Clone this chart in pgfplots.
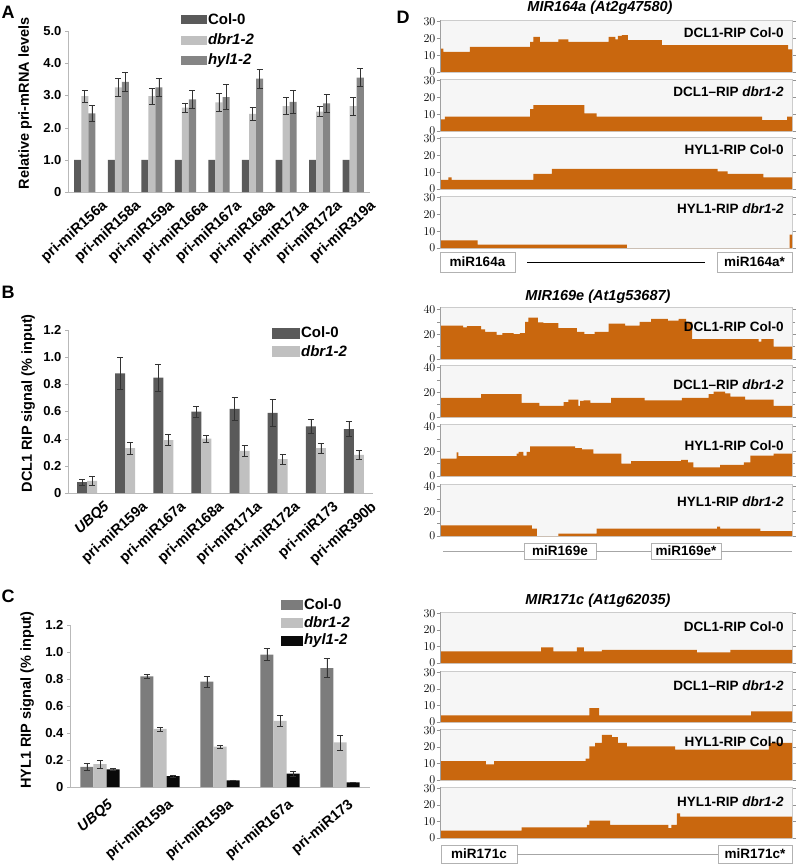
\documentclass[border=0pt]{standalone}
\usepackage{fontspec}
\setmainfont{Liberation Sans}
\usepackage{pgfplots}
\pgfplotsset{compat=1.18}
\newcommand\fs[1]{\fontsize{#1}{#1}\selectfont}
\definecolor{cdark}{HTML}{5A5A5A}
\definecolor{clight}{HTML}{C0C0C0}
\definecolor{cmid}{HTML}{858585}
\definecolor{cmidC}{HTML}{7C7C7C}
\definecolor{cblack}{HTML}{0A0A0A}
\definecolor{trk}{RGB}{201,103,14}
\definecolor{trkbg}{HTML}{F6F6F6}
\pgfplotsset{
  barax/.style={scale only axis, anchor=south west, clip=false,
    axis lines*=left, axis line style={draw=gray!55},
    xtick style={draw=none}, ytick style={draw=gray!60},
    tick align=outside, major tick length=3pt,
    tick label style={font=\bfseries\fs{13}},
    ylabel style={anchor=center, font=\bfseries\fs{14.5}},
    legend style={anchor=north west, draw=none, fill=none, font=\bfseries\fs{15}, inner sep=0pt, nodes={inner sep=1.5pt}},
    legend cell align=left},
  eb/.style={error bars/.cd, y dir=both, y explicit,
    error bar style={black!80, line width=0.6pt},
    error mark options={black!80, rotate=90, mark size=3pt, line width=0.6pt}},
  trk/.style={scale only axis, anchor=south west, width=352pt, xmin=0, xmax=100, ymin=0,
    axis background/.style={fill=trkbg}, axis line style={draw=gray!40},
    xtick=\empty, ytick style={draw=gray!85, line width=0.7pt},
    tick align=outside, major tick length=3.5pt, minor tick length=3pt,
    yticklabel style={font=\bfseries\fs{13}, inner sep=1pt},
    after end axis/.code={\draw[gray!75, line width=0.7pt] (rel axis cs:0,0) -- (rel axis cs:0,1);}},
  tf/.style={const plot, fill=trk, draw=none},
}
\newcommand\tlab[2]{\node[anchor=east, font=\bfseries\fs{13.5}] at (rel axis cs:0.986,#1) {#2};}
\begin{document}
\begin{tikzpicture}
\path[use as bounding box] (0pt,0pt) rectangle (795pt,-864pt);
% panel letters
\node[font=\bfseries\fs{18}] at (8pt,-12pt) {A};
\node[font=\bfseries\fs{18}] at (8pt,-292pt) {B};
\node[font=\bfseries\fs{18}] at (8pt,-596pt) {C};
\node[font=\bfseries\fs{18}] at (403pt,-17pt) {D};

% ---------------- Panel A
\begin{axis}[barax, at={(68pt,-192pt)}, width=302pt, height=161pt,
  xmin=-0.5, xmax=8.5, ymin=0, ymax=5,
  xtick={0,...,8},
  xticklabels={pri-miR156a,pri-miR158a,pri-miR159a,pri-miR166a,pri-miR167a,pri-miR168a,pri-miR171a,pri-miR172a,pri-miR319a},
  x tick label style={xshift=16pt, yshift=-4pt, rotate=42, anchor=north east, inner sep=0pt, font=\bfseries\fs{14.5}},
  ytick={0,1,2,3,4,5}, yticklabels={0,1.0,2.0,3.0,4.0,5.0},
  ylabel={Relative pri-mRNA levels}, ylabel style={at={(rel axis cs:-0.142,0.55)}},
  legend style={at={(rel axis cs:0.374,1.12)}, row sep=5pt}]
\addlegendimage{legend image code/.code={\fill[cdark] (0pt,-4pt) rectangle (25pt,4pt);}}
\addlegendentry{Col-0}
\addlegendimage{legend image code/.code={\fill[clight] (0pt,-4pt) rectangle (25pt,4pt);}}
\addlegendentry{\textit{dbr1-2}}
\addlegendimage{legend image code/.code={\fill[cmid] (0pt,-4pt) rectangle (25pt,4pt);}}
\addlegendentry{\textit{hyl1-2}}
\addplot[ybar, bar width=0.21, bar shift=0pt, x filter/.expression={x-0.21}, fill=cdark, draw=none, forget plot]
  coordinates {(0,1)(1,1)(2,1)(3,1)(4,1)(5,1)(6,1)(7,1)(8,1)};
\addplot[ybar, bar width=0.21, bar shift=0pt, fill=clight, draw=none, forget plot, eb]
  coordinates {(0,2.98)+-(0,0.18) (1,3.25)+-(0,0.27) (2,2.98)+-(0,0.25) (3,2.62)+-(0,0.15) (4,2.78)+-(0,0.28)
   (5,2.43)+-(0,0.2) (6,2.67)+-(0,0.27) (7,2.5)+-(0,0.15) (8,2.67)+-(0,0.28)};
\addplot[ybar, bar width=0.21, bar shift=0pt, x filter/.expression={x+0.21}, fill=cmid, draw=none, forget plot, eb]
  coordinates {(0,2.44)+-(0,0.24) (1,3.42)+-(0,0.3) (2,3.25)+-(0,0.28) (3,2.88)+-(0,0.28) (4,2.95)+-(0,0.38)
   (5,3.52)+-(0,0.3) (6,2.8)+-(0,0.35) (7,2.75)+-(0,0.28) (8,3.55)+-(0,0.28)};
\end{axis}

% ---------------- Panel B
\begin{axis}[barax, at={(68pt,-493pt)}, width=305pt, height=163pt,
  xmin=-0.5, xmax=7.5, ymin=0, ymax=1.2,
  xtick={0,...,7},
  xticklabels={\textit{UBQ5},pri-miR159a,pri-miR167a,pri-miR168a,pri-miR171a,pri-miR172a,pri-miR173,pri-miR390b},
  x tick label style={xshift=16pt, yshift=-4pt, rotate=42, anchor=north east, inner sep=0pt, font=\bfseries\fs{14.5}},
  ytick={0,0.2,0.4,0.6,0.8,1.0,1.2}, yticklabels={0,0.2,0.4,0.6,0.8,1.0,1.2},
  ylabel={DCL1 RIP signal (\% input)}, ylabel style={at={(rel axis cs:-0.131,0.55)}},
  legend style={at={(rel axis cs:0.669,1.03)}, row sep=3pt}]
\addlegendimage{legend image code/.code={\fill[cdark] (0pt,-5pt) rectangle (27pt,5pt);}}
\addlegendentry{Col-0}
\addlegendimage{legend image code/.code={\fill[clight] (0pt,-5pt) rectangle (27pt,5pt);}}
\addlegendentry{\textit{dbr1-2}}
\addplot[ybar, bar width=0.262, bar shift=0pt, x filter/.expression={x-0.131}, fill=cdark, draw=none, forget plot, eb]
  coordinates {(0,0.08)+-(0,0.02) (1,0.88)+-(0,0.12) (2,0.85)+-(0,0.1) (3,0.6)+-(0,0.04)
   (4,0.62)+-(0,0.085) (5,0.59)+-(0,0.1) (6,0.49)+-(0,0.05) (7,0.47)+-(0,0.055)};
\addplot[ybar, bar width=0.262, bar shift=0pt, x filter/.expression={x+0.131}, fill=clight, draw=none, forget plot, eb]
  coordinates {(0,0.09)+-(0,0.03) (1,0.33)+-(0,0.045) (2,0.39)+-(0,0.04) (3,0.40)+-(0,0.025)
   (4,0.31)+-(0,0.04) (5,0.25)+-(0,0.035) (6,0.33)+-(0,0.035) (7,0.28)+-(0,0.035)};
\end{axis}

% ---------------- Panel C
\begin{axis}[barax, at={(70pt,-787pt)}, width=300pt, height=162pt,
  xmin=-0.5, xmax=4.5, ymin=0, ymax=1.2,
  xtick={0,...,4},
  xticklabels={\textit{UBQ5},pri-miR159a,pri-miR159a,pri-miR167a,pri-miR173},
  x tick label style={xshift=7pt, yshift=-8pt, rotate=40, anchor=north east, inner sep=0pt, font=\bfseries\fs{14.5}},
  ytick={0,0.2,0.4,0.6,0.8,1.0,1.2}, yticklabels={0,0.2,0.4,0.6,0.8,1.0,1.2},
  ylabel={HYL1 RIP signal (\% input)}, ylabel style={at={(rel axis cs:-0.143,0.537)}},
  legend style={at={(rel axis cs:0.703,1.175)}, row sep=2.5pt}]
\addlegendimage{legend image code/.code={\fill[cmidC] (0pt,-4.5pt) rectangle (21pt,4.5pt);}}
\addlegendentry{Col-0}
\addlegendimage{legend image code/.code={\fill[clight] (0pt,-4.5pt) rectangle (21pt,4.5pt);}}
\addlegendentry{\textit{dbr1-2}}
\addlegendimage{legend image code/.code={\fill[cblack] (0pt,-4.5pt) rectangle (21pt,4.5pt);}}
\addlegendentry{\textit{hyl1-2}}
\addplot[ybar, bar width=0.217, bar shift=0pt, x filter/.expression={x-0.217}, fill=cmidC, draw=none, forget plot, eb]
  coordinates {(0,0.15)+-(0,0.025) (1,0.82)+-(0,0.012) (2,0.78)+-(0,0.04) (3,0.98)+-(0,0.045) (4,0.88)+-(0,0.07)};
\addplot[ybar, bar width=0.217, bar shift=0pt, fill=clight, draw=none, forget plot, eb]
  coordinates {(0,0.17)+-(0,0.03) (1,0.43)+-(0,0.015) (2,0.30)+-(0,0.012) (3,0.49)+-(0,0.04) (4,0.33)+-(0,0.055)};
\addplot[ybar, bar width=0.217, bar shift=0pt, x filter/.expression={x+0.217}, fill=cblack, draw=none, forget plot, eb]
  coordinates {(0,0.13)+-(0,0.008) (1,0.08)+-(0,0.006) (2,0.05)+-(0,0.003) (3,0.10)+-(0,0.02) (4,0.035)+-(0,0.003)};
\end{axis}

% ---------------- Panel D, block 1
\node[font=\bfseries\itshape\fs{14.5}] at (600pt,-8pt) {MIR164a (At2g47580)};
\begin{axis}[trk, at={(440pt,-72pt)}, height=52pt, ymax=31, ytick={0,10,20,30}]
\addplot[tf] coordinates {(0,14)(0.95,12)(8.5,15)(25.6,18)(26.5,21)(28.4,18)(33.6,19.5)(36.5,18)(47.9,21)(49.8,19.5)(50.5,21.5)(51.7,22)(53.4,19)(63,16)(98.9,13.5)(100,13.5)} \closedcycle;
\tlab{0.75}{DCL1-RIP Col-0}
\end{axis}
\begin{axis}[trk, at={(440pt,-131pt)}, height=52pt, ymax=31, ytick={0,10,20,30}]
\addplot[tf] coordinates {(0,7)(1.4,8.5)(25.6,13)(26.5,15.5)(41,10.5)(44.5,8.5)(91.5,6.5)(98.6,8.5)(100,8.5)} \closedcycle;
\tlab{0.75}{DCL1--RIP \textit{dbr1-2}}
\end{axis}
\begin{axis}[trk, at={(440pt,-189pt)}, height=52pt, ymax=31, ytick={0,10,20,30}]
\addplot[tf] coordinates {(0,5.5)(2.4,7)(3.3,5.5)(26.5,9)(31.8,12)(78.9,10.5)(81.7,9)(91.9,7)(100,7)} \closedcycle;
\tlab{0.75}{HYL1-RIP Col-0}
\end{axis}
\begin{axis}[trk, at={(440pt,-248pt)}, height=52pt, ymax=31, ytick={0,10,20,30}]
\addplot[tf] coordinates {(0,4.5)(10.7,2)(53.1,0)(99.3,8)(100,8)} \closedcycle;
\tlab{0.75}{HYL1-RIP \textit{dbr1-2}}
\end{axis}
\draw[gray!60, fill=white] (440pt,-252pt) rectangle (515pt,-272pt);
\node[font=\bfseries\fs{13.5}] at (477.5pt,-262pt) {miR164a};
\draw[black, line width=0.9pt] (527pt,-262pt) -- (705pt,-262pt);
\draw[gray!60, fill=white] (717pt,-252pt) rectangle (792pt,-272pt);
\node[font=\bfseries\fs{13.5}] at (754.5pt,-262pt) {miR164a*};

% ---------------- block 2
\node[font=\bfseries\itshape\fs{14.5}] at (598pt,-297pt) {MIR169e (At1g53687)};
\begin{axis}[trk, at={(440pt,-359pt)}, height=52pt, ymax=42, ytick={0,20,40}, minor ytick={10,30}]
\addplot[tf] coordinates {(0,27)(6.6,25.5)(7.6,26.5)(11.7,24)(12.8,22)(16.1,19.5)(17.7,21)(20.9,20)(22.7,21)(24.2,30)(25.1,33.5)(27.8,29.5)(29.4,29)(33.6,25)(38.9,22)(41,20)(43.9,22)(47.9,28.5)(52.6,27)(56.7,30)(60,32.5)(64.7,31)(67.8,32.5)(69.9,30)(71.6,16)(90.5,14)(91.3,16)(94.8,10)(100,10)} \closedcycle;
\tlab{0.62}{DCL1-RIP Col-0}
\end{axis}
\begin{axis}[trk, at={(440pt,-417pt)}, height=52pt, ymax=42, ytick={0,20,40}, minor ytick={10,30}]
\addplot[tf] coordinates {(0,15.5)(11.7,18.5)(23.2,11.5)(28.2,9)(35.1,12)(36.5,14)(39.3,9)(39.8,13)(40.8,13.5)(42.7,11.5)(48.6,15.5)(58.1,13.5)(68.7,15.5)(76.3,18.5)(77.7,20.5)(81,19)(82.5,16.5)(86.7,14)(94.8,9)(100,9)} \closedcycle;
\tlab{0.63}{DCL1--RIP \textit{dbr1-2}}
\end{axis}
\begin{axis}[trk, at={(440pt,-476pt)}, height=52pt, ymax=42, ytick={0,20,40}, minor ytick={10,30}]
\addplot[tf] coordinates {(0,14)(4.7,19)(5.2,16)(21.8,18)(22.3,19.5)(23.7,16.5)(24.6,19.5)(25.6,24)(38.4,22.5)(40.3,21.5)(43.6,18)(51.5,10)(54.3,12)(68.5,13)(70.4,11)(72,7)(79.6,9)(86.3,11)(88.2,16.5)(94.8,18)(100,18)} \closedcycle;
\tlab{0.58}{HYL1-RIP Col-0}
\end{axis}
\begin{axis}[trk, at={(440pt,-536pt)}, height=52pt, ymax=42, ytick={0,20,40}, minor ytick={10,30}]
\addplot[tf] coordinates {(0,8.5)(26.1,6)(27.5,0)(33.6,2)(44.5,6)(78.7,7.5)(79.6,6)(91,4)(100,4)} \closedcycle;
\tlab{0.66}{HYL1-RIP \textit{dbr1-2}}
\end{axis}
\draw[gray!70] (443pt,-551pt) -- (524pt,-551pt);
\draw[gray!60, fill=white] (524pt,-543pt) rectangle (596pt,-559pt);
\node[font=\bfseries\fs{13.5}] at (560pt,-551pt) {miR169e};
\draw[gray!70] (596pt,-551pt) -- (651pt,-551pt);
\draw[gray!60, fill=white] (651pt,-543pt) rectangle (721pt,-559pt);
\node[font=\bfseries\fs{13.5}] at (686pt,-551pt) {miR169e*};
\draw[gray!70] (721pt,-551pt) -- (792pt,-551pt);

% ---------------- block 3
\node[font=\bfseries\itshape\fs{14.5}] at (598pt,-601pt) {MIR171c (At1g62035)};
\begin{axis}[trk, at={(440pt,-663pt)}, height=51pt, ymax=31, ytick={0,10,20,30}]
\addplot[tf] coordinates {(0,7)(28.7,9.5)(32.2,7)(38.9,9.5)(40.9,7)(46,8)(73,6.5)(82.5,8)(100,8)} \closedcycle;
\tlab{0.72}{DCL1-RIP Col-0}
\end{axis}
\begin{axis}[trk, at={(440pt,-722pt)}, height=51pt, ymax=31, ytick={0,10,20,30}]
\addplot[tf] coordinates {(0,4)(42.4,8.5)(45.2,4)(88.4,6.5)(100,6.5)} \closedcycle;
\tlab{0.72}{DCL1--RIP \textit{dbr1-2}}
\end{axis}
\begin{axis}[trk, at={(440pt,-780pt)}, height=51pt, ymax=31, ytick={0,10,20,30}]
\addplot[tf] coordinates {(0,11.5)(13,9.5)(15.4,11.5)(41.4,13)(42.4,20.5)(44.1,22.5)(46,27.5)(48.8,26)(50.5,22.5)(53.1,20.5)(66.8,18.5)(93.4,22.5)(100,22.5)} \closedcycle;
\tlab{0.75}{HYL1-RIP Col-0}
\end{axis}
\begin{axis}[trk, at={(440pt,-838pt)}, height=51pt, ymax=31, ytick={0,10,20,30}]
\addplot[tf] coordinates {(0,4.5)(23.2,6.5)(41.7,8)(42.4,10.5)(48.3,8)(64.9,6)(65.7,8)(67.3,15)(68.2,13)(100,13)} \closedcycle;
\tlab{0.72}{HYL1-RIP \textit{dbr1-2}}
\end{axis}
\draw[gray!60, fill=white] (441pt,-845pt) rectangle (517pt,-863pt);
\node[font=\bfseries\fs{13.5}] at (479pt,-854pt) {miR171c};
\draw[gray!70] (517pt,-854pt) -- (718pt,-854pt);
\draw[gray!60, fill=white] (718pt,-845pt) rectangle (792pt,-863pt);
\node[font=\bfseries\fs{13.5}] at (755pt,-854pt) {miR171c*};
\end{tikzpicture}
\end{document}
